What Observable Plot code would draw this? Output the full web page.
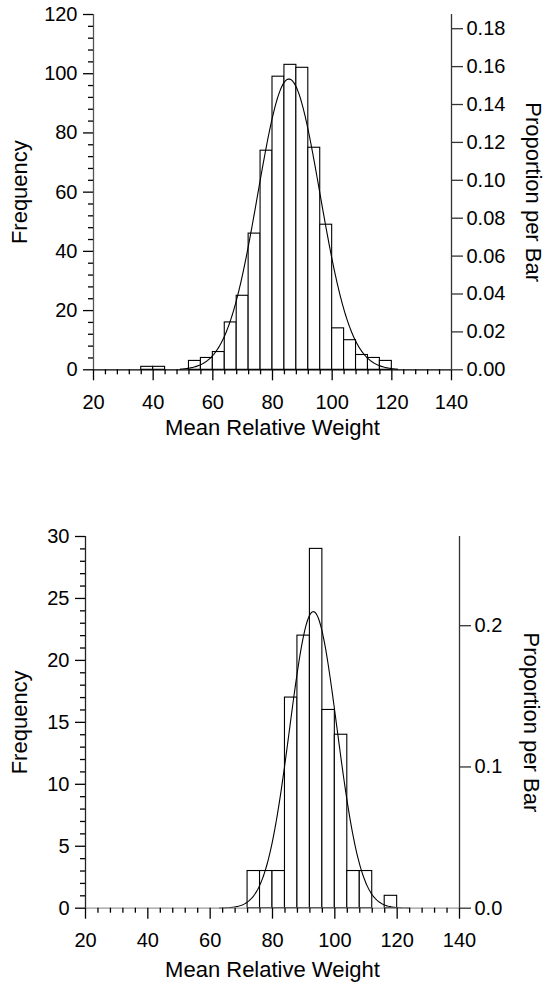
<!DOCTYPE html>
<html>
<head>
<meta charset="utf-8">
<script src="https://cdn.jsdelivr.net/npm/d3@7"></script>
<script src="https://cdn.jsdelivr.net/npm/@observablehq/plot@0.6"></script>
<style>
  html, body { margin: 0; padding: 0; background: #fff; }
  #charts svg { display: block; }
</style>
</head>
<body>
<div id="charts"></div>
<script>
// ---------- data ----------
const binWidth = 4;
const xTicks = [20, 40, 60, 80, 100, 120, 140];
const xTitle = "Mean Relative Weight";
const yTitle = "Frequency";
const y2Title = "Proportion per Bar";

// top histogram (lower bin edges and counts), N = 640
const topBinStart = [36, 40, 44, 48, 52, 56, 60, 64, 68, 72, 76, 80, 84, 88, 92, 96, 100, 104, 108, 112, 116];
const topCounts   = [ 1,  1,  0,  0,  3,  4,  6, 16, 25, 46, 74, 99, 103, 102, 75, 49, 14, 10, 5, 4, 3];
const topN = 640;
const topYTicks = [0, 20, 40, 60, 80, 100, 120];
const topPropTicks = [0, 0.02, 0.04, 0.06, 0.08, 0.10, 0.12, 0.14, 0.16, 0.18];
const topFitMean = 85.5, topFitSd = 10.4, topFitFrom = 49, topFitTo = 122;

// bottom histogram, N = 114
const botBinStart = [72, 76, 80, 84, 88, 92, 96, 100, 104, 108, 112, 116];
const botCounts   = [ 3,  3,  3, 17, 22, 29, 16,  14,   3,   3,   0,   1];
const botN = 114;
const botYTicks = [0, 5, 10, 15, 20, 25, 30];
const botPropTicks = [0, 0.1, 0.2];
const botFitMean = 93.1, botFitSd = 7.6, botFitFrom = 63, botFitTo = 124;

// ---------- chart builder ----------
const font = "'Liberation Sans', Arial, Helvetica, sans-serif";

function histogram(cfg) {
  const bins = cfg.starts.map((s, i) => ({x1: s, x2: s + binWidth, n: cfg.counts[i]})).filter(d => d.n > 0);
  // fitted normal curve scaled to counts per bar
  const curve = d3.range(cfg.fitFrom, cfg.fitTo + 1e-9, 0.25).map(x => ({
    x,
    y: cfg.N * binWidth * Math.exp(-0.5 * ((x - cfg.fitMean) / cfg.fitSd) ** 2) / (cfg.fitSd * Math.sqrt(2 * Math.PI))
  }));
  const ymax = cfg.yTicks[cfg.yTicks.length - 1];
  const minorX = d3.range(20, 140.001, binWidth).filter(v => !xTicks.includes(v));
  const minorY = d3.range(0, ymax + 1e-9, cfg.yMinor).filter(v => !cfg.yTicks.includes(v));
  const [x0, x1] = [20, 140];
  return Plot.plot({
    width: 550,
    height: cfg.height,
    marginLeft: cfg.mL,
    marginRight: cfg.mR,
    marginTop: cfg.mT,
    marginBottom: cfg.mB,
    x: {domain: [x0, x1]},
    y: {domain: [0, ymax]},
    style: {fontFamily: font, fontSize: "20px", color: "#000", background: "#fff", overflow: "visible"},
    marks: [
      Plot.rectY(bins, {x1: "x1", x2: "x2", y: "n", fill: "white", stroke: "#000", strokeWidth: 1.1}),
      Plot.line(curve, {x: "x", y: "y", stroke: "#000", strokeWidth: 1.1}),
      Plot.ruleY([0], {x1: x0, x2: x1, stroke: cfg.baseColor, strokeWidth: 1.3}),
      Plot.ruleX([x0], {y1: 0, y2: ymax, stroke: cfg.leftColor, strokeWidth: 1.3}),
      Plot.ruleX([x1], {y1: 0, y2: ymax, stroke: "#333", strokeWidth: 1.3}),
      Plot.axisX({ticks: xTicks, tickSize: 11, tickPadding: 14, label: null, fontSize: 20, stroke: "#000", strokeWidth: 1.3}),
      Plot.axisX({ticks: minorX, tickSize: 5, tickFormat: () => "", label: null, stroke: "#000", strokeWidth: 1.3}),
      Plot.axisY({ticks: cfg.yTicks, tickSize: 10, tickPadding: 6, label: null, fontSize: 20, stroke: "#000", strokeWidth: 1.3}),
      Plot.axisY({ticks: minorY, tickSize: 5, tickFormat: () => "", label: null, stroke: "#000", strokeWidth: 1.3}),
      Plot.axisY({
        anchor: "right",
        ticks: cfg.propTicks.map(p => p * cfg.N),
        tickFormat: d => (d / cfg.N).toFixed(cfg.propDigits),
        tickSize: 11, tickPadding: 4, label: null, fontSize: 20, stroke: "#333", strokeWidth: 1.3
      }),
      Plot.text([yTitle], {text: d => d, frameAnchor: "left", textAnchor: "middle", lineAnchor: "middle", dx: cfg.yTitleDx, rotate: -90, fontSize: 22}),
      Plot.text([y2Title], {text: d => d, frameAnchor: "right", textAnchor: "middle", lineAnchor: "middle", dx: cfg.y2TitleDx, rotate: 90, fontSize: 22}),
      Plot.text([xTitle], {text: d => d, frameAnchor: "bottom", textAnchor: "middle", lineAnchor: "middle", dy: cfg.xTitleDy, fontSize: 22})
    ]
  });
}

const root = document.getElementById("charts");
root.appendChild(histogram({
  starts: topBinStart, counts: topCounts, N: topN,
  yTicks: topYTicks, yMinor: 4, propTicks: topPropTicks, propDigits: 2,
  fitMean: topFitMean, fitSd: topFitSd, fitFrom: topFitFrom, fitTo: topFitTo,
  height: 460, mL: 93, mR: 99, mT: 14, mB: 90.7,
  baseColor: "#000", leftColor: "#555",
  yTitleDx: -74, y2TitleDx: 82, xTitleDy: 58
}));
root.appendChild(histogram({
  starts: botBinStart, counts: botCounts, N: botN,
  yTicks: botYTicks, yMinor: 1, propTicks: botPropTicks, propDigits: 1,
  fitMean: botFitMean, fitSd: botFitSd, fitFrom: botFitFrom, fitTo: botFitTo,
  height: 522, mL: 85, mR: 91, mT: 76, mB: 74.3,
  baseColor: "#999", leftColor: "#222",
  yTitleDx: -65.5, y2TitleDx: 72, xTitleDy: 61.5
}));
</script>
</body>
</html>
